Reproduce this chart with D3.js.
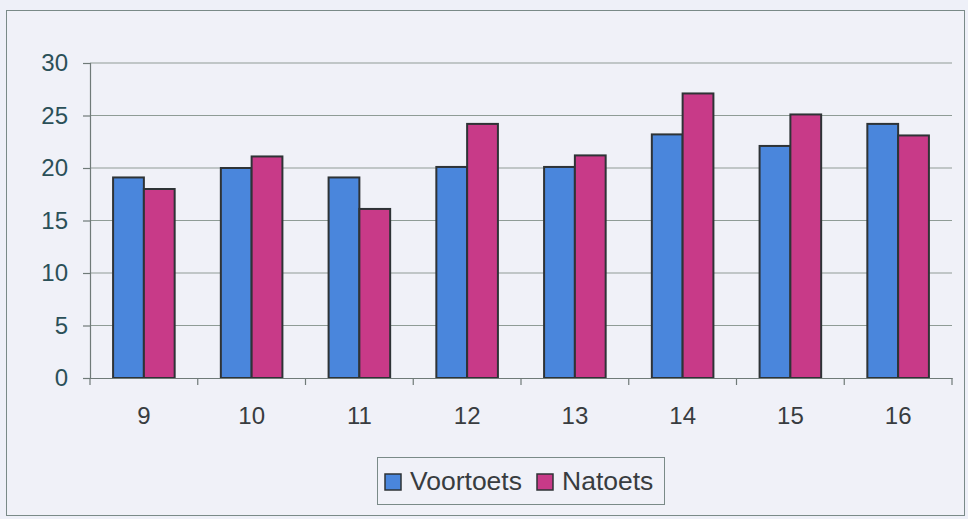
<!DOCTYPE html>
<html><head><meta charset="utf-8">
<script src="https://cdn.jsdelivr.net/npm/d3@7"></script>
<style>
html,body{margin:0;padding:0;background:#eef0f8;}
svg{display:block;font-family:Arial,"Liberation Sans",sans-serif;}
</style></head>
<body><svg id="c" width="968" height="519"></svg>
<script>
const categories = ["9","10","11","12","13","14","15","16"];
const seriesNames = ["Voortoets","Natoets"];
const voortoets = [19.1, 20.0, 19.1, 20.1, 20.1, 23.2, 22.1, 24.2];
const natoets   = [18.0, 21.1, 16.1, 24.2, 21.2, 27.1, 25.1, 23.1];
const yTicks = [0,5,10,15,20,25,30];
const colors = ["#4a86dc","#c83a88"];

const svg = d3.select("#c");
const W = 968, H = 519;
svg.append("rect").attr("x",0).attr("y",0).attr("width",W).attr("height",H).attr("fill","#eef0f8");
svg.append("rect").attr("x",6.5).attr("y",10.5).attr("width",958).attr("height",505)
  .attr("fill","#f0f1f8").attr("stroke","#7a8a88").attr("stroke-width",1);

const m = {l:90, r:952, t:63, b:378};
const x0 = d3.scaleBand().domain(categories).range([m.l,m.r]).paddingInner(0).paddingOuter(0);
const inner = 2/3.5;
const x1 = d3.scaleBand().domain(seriesNames).range([0,x0.bandwidth()*inner]);
const y = d3.scaleLinear().domain([0,30]).range([m.b,m.t]);

const g = svg.append("g");
// gridlines
g.selectAll("line.grid").data(yTicks.filter(d=>d>0)).join("line")
  .attr("x1",m.l).attr("x2",m.r).attr("y1",d=>y(d)).attr("y2",d=>y(d))
  .attr("stroke","#8f9c96").attr("stroke-width",1.2);

// bars
const rows = categories.map((c,i)=>({c, vals:[voortoets[i],natoets[i]]}));
const grp = g.selectAll("g.cat").data(rows).join("g")
  .attr("transform",d=>`translate(${x0(d.c)+x0.bandwidth()*(1-inner)/2},0)`);
grp.selectAll("rect").data(d=>d.vals.map((v,j)=>({s:seriesNames[j],v,j}))).join("rect")
  .attr("x",d=>x1(d.s)).attr("width",x1.bandwidth())
  .attr("y",d=>y(d.v)).attr("height",d=>y(0)-y(d.v))
  .attr("fill",d=>colors[d.j]).attr("stroke","#2e3336").attr("stroke-width",2);

// y axis
const ya = d3.axisLeft(y).tickValues(yTicks).tickSize(7).tickPadding(15).tickFormat(d3.format("d"));
const yg = svg.append("g").attr("transform",`translate(${m.l},0)`).call(ya);
yg.select(".domain").attr("stroke","#6f7a78").attr("stroke-width",1.2);
yg.selectAll(".tick line").attr("stroke","#6f7a78").attr("stroke-width",1.2);
yg.selectAll("text").attr("font-size",24).attr("fill","#2b5058");

// x axis
const xa = d3.axisBottom(x0).tickSize(0).tickPadding(29);
const xg = svg.append("g").attr("transform",`translate(0,${m.b})`).call(xa);
xg.select(".domain").attr("stroke","#6f7a78").attr("stroke-width",1.2);
xg.selectAll("text").attr("font-size",24).attr("fill","#383c40");
xg.selectAll("line.sep").data(d3.range(categories.length+1)).join("line")
  .attr("x1",i=>m.l+i*x0.step()).attr("x2",i=>m.l+i*x0.step())
  .attr("y1",0).attr("y2",7).attr("stroke","#6f7a78").attr("stroke-width",1.2);

// legend
const lg = svg.append("g");
lg.append("rect").attr("x",377.5).attr("y",457.5).attr("width",287).attr("height",47)
  .attr("fill","#f0f1f8").attr("stroke","#7a8a88").attr("stroke-width",1);
const items = [{n:seriesNames[0],x:385,c:colors[0]},{n:seriesNames[1],x:537,c:colors[1]}];
items.forEach(it=>{
  lg.append("rect").attr("x",it.x).attr("y",474).attr("width",16).attr("height",16)
    .attr("fill",it.c).attr("stroke","#2e3336").attr("stroke-width",1.5);
  lg.append("text").attr("x",it.x+25).attr("y",490).attr("font-size",26.5).attr("fill","#383c40").text(it.n);
});
</script></body></html>
